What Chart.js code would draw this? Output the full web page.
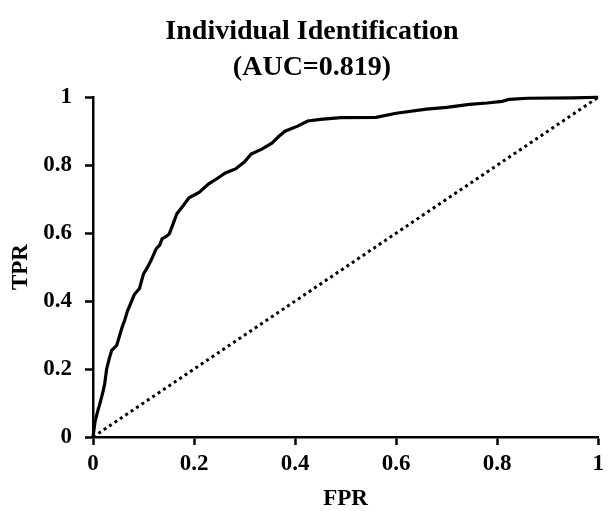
<!DOCTYPE html>
<html>
<head>
<meta charset="utf-8">
<script src="https://cdn.jsdelivr.net/npm/chart.js@4/dist/chart.umd.min.js"></script>
<style>
  html, body { margin: 0; padding: 0; background: #fff; }
  #wrap { width: 609px; height: 511px; }
</style>
</head>
<body>
<div id="wrap"><canvas id="roc" width="609" height="511"></canvas></div>
<script>
// ROC curve
const fprValues = [0, 0.004, 0.01, 0.014, 0.02, 0.023, 0.027, 0.032, 0.037, 0.047, 0.052, 0.057, 0.063, 0.068, 0.075, 0.082, 0.092, 0.1, 0.108, 0.115, 0.125, 0.132, 0.137, 0.145, 0.151, 0.158, 0.166, 0.178, 0.19, 0.21, 0.229, 0.245, 0.262, 0.282, 0.3, 0.313, 0.335, 0.354, 0.368, 0.38, 0.405, 0.425, 0.45, 0.49, 0.56, 0.6, 0.66, 0.7, 0.745, 0.78, 0.81, 0.824, 0.86, 0.95, 1];
const tprValues = [0, 0.045, 0.08, 0.1, 0.135, 0.155, 0.2, 0.23, 0.255, 0.27, 0.295, 0.32, 0.345, 0.37, 0.395, 0.42, 0.437, 0.48, 0.5, 0.52, 0.554, 0.565, 0.584, 0.59, 0.598, 0.625, 0.657, 0.68, 0.704, 0.72, 0.745, 0.76, 0.777, 0.789, 0.81, 0.833, 0.848, 0.865, 0.885, 0.9, 0.915, 0.93, 0.935, 0.94, 0.941, 0.953, 0.965, 0.97, 0.979, 0.983, 0.988, 0.994, 0.997, 0.998, 1];

// chance line
const chanceX = [0, 1];
const chanceY = [0, 1];

const tickValues = [0, 0.2, 0.4, 0.6, 0.8, 1];
const tickLabels = ["0", "0.2", "0.4", "0.6", "0.8", "1"];

const titleLines = ["Individual Identification", "(AUC=0.819)"];
const xTitle = "FPR";
const yTitle = "TPR";

const serif = "'Liberation Serif', 'Times New Roman', serif";

function toPoints(xs, ys) {
    return xs.map((x, i) => ({ x: x, y: ys[i] }));
}

function tickLabel(value) {
    const i = tickValues.findIndex(t => Math.abs(t - value) < 1e-9);
    return i >= 0 ? tickLabels[i] : "";
}

const axisCommon = {
    type: "linear",
    min: 0,
    max: 1,
    grid: {
        display: true,
        drawOnChartArea: false,
        drawTicks: true,
        tickLength: 8,
        tickWidth: 2.5,
        tickColor: "#000",
    },
    border: { display: true, color: "#000", width: 2.5 },
};

new Chart(document.getElementById("roc"), {
    type: "scatter",
    data: {
        datasets: [
            {
                label: "ROC",
                data: toPoints(fprValues, tprValues),
                showLine: true,
                borderColor: "#000",
                borderWidth: 3.2,
                pointRadius: 0,
                tension: 0,
                clip: false,
            },
            {
                label: "Chance",
                data: toPoints(chanceX, chanceY),
                showLine: true,
                borderColor: "#000",
                borderWidth: 3,
                borderDash: [3, 3.5],
                pointRadius: 0,
                clip: false,
            },
        ],
    },
    options: {
        responsive: false,
        animation: false,
        events: [],
        layout: { padding: { left: 20, right: 5, top: 0, bottom: 0 } },
        plugins: {
            legend: { display: false },
            tooltip: { enabled: false },
            title: {
                display: true,
                text: titleLines,
                color: "#000",
                font: { family: serif, size: 28, weight: "bold", lineHeight: 1.29 },
                padding: { top: 14, bottom: 11 },
            },
        },
        scales: {
            x: {
                ...axisCommon,
                position: "bottom",
                afterFit: scale => { scale.height = 74; },
                afterBuildTicks: scale => { scale.ticks = tickValues.map(v => ({ value: v })); },
                ticks: {
                    color: "#000",
                    font: { family: serif, size: 23, weight: "bold" },
                    padding: 5,
                    maxRotation: 0,
                    callback: tickLabel,
                },
                title: {
                    display: true,
                    text: xTitle,
                    color: "#000",
                    font: { family: serif, size: 23, weight: "bold", lineHeight: 1.2 },
                    padding: { top: 0, bottom: -2 },
                },
            },
            y: {
                ...axisCommon,
                position: "left",
                afterFit: scale => { scale.width = 73; },
                afterBuildTicks: scale => { scale.ticks = tickValues.map(v => ({ value: v })); },
                ticks: {
                    color: "#000",
                    font: { family: serif, size: 23, weight: "bold" },
                    padding: 13,
                    callback: tickLabel,
                },
                title: {
                    display: true,
                    text: yTitle,
                    color: "#000",
                    font: { family: serif, size: 23, weight: "bold", lineHeight: 1.2 },
                    padding: { top: -13, bottom: 0 },
                },
            },
        },
    },
});
</script>
</body>
</html>
